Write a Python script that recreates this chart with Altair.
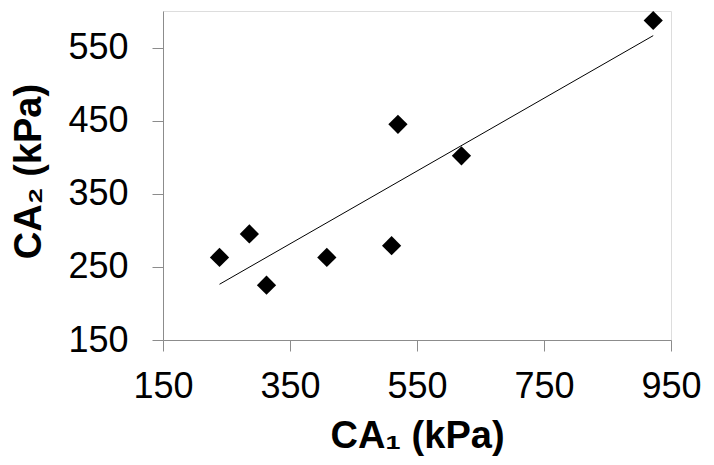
import altair as alt
import pandas as pd

ca1 = [239, 286, 313, 408, 510, 520, 620, 922]
ca2 = [263, 295, 225, 263, 279, 445, 402, 587]
x_ticks = [150, 350, 550, 750, 950]
y_ticks = [150, 250, 350, 450, 550]

df = pd.DataFrame({"x": ca1, "y": ca2})

FONT = "Liberation Sans"
GRAY = "#8c8c8c"

xenc = alt.X("x:Q", scale=alt.Scale(domain=[150, 950], nice=False, zero=False),
             axis=alt.Axis(values=x_ticks, title="CA\u2081 (kPa)", grid=False,
                           domainColor=GRAY, tickColor=GRAY, tickSize=11,
                           labelFont=FONT, labelFontSize=36, labelColor="black",
                           labelPadding=18, labelFlush=False,
                           titleFont=FONT, titleFontSize=38, titleFontWeight="bold",
                           titleColor="black", titleBaseline="alphabetic", titleY=107))
yenc = alt.Y("y:Q", scale=alt.Scale(domain=[150, 600], nice=False, zero=False),
             axis=alt.Axis(values=y_ticks, title="CA\u2082 (kPa)", grid=False,
                           domainColor=GRAY, tickColor=GRAY, tickSize=11,
                           labelFont=FONT, labelFontSize=36, labelColor="black",
                           labelPadding=24, labelFlush=False,
                           titleFont=FONT, titleFontSize=38, titleFontWeight="bold",
                           titleColor="black", titleBaseline="alphabetic",
                           titleX=-123, titleY=160, titleAngle=-90))

points = alt.Chart(df).mark_point(shape="diamond", filled=True, size=370,
                                  color="black", opacity=1).encode(x=xenc, y=yenc)
trend = alt.Chart(df).transform_regression("x", "y").mark_line(
    color="black", strokeWidth=1).encode(x="x:Q", y="y:Q")

chart = (trend + points).properties(
    width=508, height=329,
    autosize=alt.AutoSizeParams(type="none"),
    padding={"left": 155, "top": 3, "right": 35, "bottom": 122},
).configure_view(stroke=None).configure(background="white")

chart.save("out.html", embed_options={"renderer": "svg", "actions": False})
